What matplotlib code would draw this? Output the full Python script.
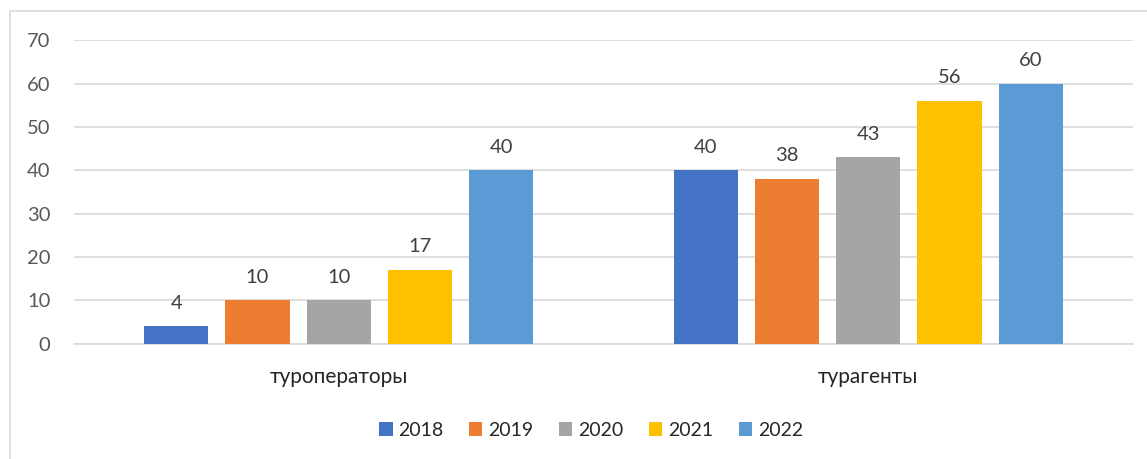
import numpy as np
import matplotlib.pyplot as plt
from matplotlib.patches import Rectangle

categories = ["туроператоры", "турагенты"]
years = ["2018", "2019", "2020", "2021", "2022"]
values = {
    "2018": [4, 40],
    "2019": [10, 38],
    "2020": [10, 43],
    "2021": [17, 56],
    "2022": [40, 60],
}
colors = ["#4472C4", "#ED7D31", "#A5A5A5", "#FFC000", "#5B9BD5"]

plt.rcParams["font.family"] = ["Lato", "DejaVu Sans"]

W, H = 1147, 459
fig = plt.figure(figsize=(W / 100, H / 100), dpi=100)

# chart border (clipped on right/bottom like the reference)
fig.patches.append(Rectangle((10 / W, -0.1), 1.2, (H - 11) / H + 0.1,
                             transform=fig.transFigure, fill=False,
                             edgecolor="#d9d9d9", linewidth=1.2))

ax = fig.add_axes([74 / W, (H - 343.7) / H, (1133 - 74) / W, (343.7 - 40.3) / H])

x = np.arange(len(categories))
step = 0.1535
width = 0.121
for i, (yr, col) in enumerate(zip(years, colors)):
    offs = (i - 2) * step
    bars = ax.bar(x + offs, values[yr], width, color=col, label=yr, zorder=3)
    for b, v in zip(bars, values[yr]):
        ax.annotate(str(v), (b.get_x() + b.get_width() / 2, v),
                    xytext=(0, 10.5), textcoords="offset points",
                    ha="center", va="bottom", fontsize=14.5, color="#404040")

ax.set_xlim(-0.5, 1.5)
ax.set_ylim(0, 70)
ax.set_yticks(range(0, 71, 10))
ax.yaxis.grid(True, color="#d9d9d9", linewidth=1.2, zorder=0)
for s in ["top", "right", "left"]:
    ax.spines[s].set_visible(False)
ax.spines["bottom"].set_color("#d9d9d9")
ax.spines["bottom"].set_linewidth(1.2)
ax.tick_params(axis="y", length=0, pad=17, labelsize=14.5, labelcolor="#595959")
ax.tick_params(axis="x", length=0, pad=17, labelsize=15, labelcolor="#262626")
ax.set_xticks(x)
ax.set_xticklabels(categories)

ax.legend(loc="center", bbox_to_anchor=(591 / W, (H - 430) / H),
          bbox_transform=fig.transFigure, ncol=5, frameon=False,
          fontsize=14, handlelength=0.7, handleheight=0.7,
          handletextpad=0.3, columnspacing=1.3, labelcolor="#262626")

fig.savefig("out.png", dpi=100)
